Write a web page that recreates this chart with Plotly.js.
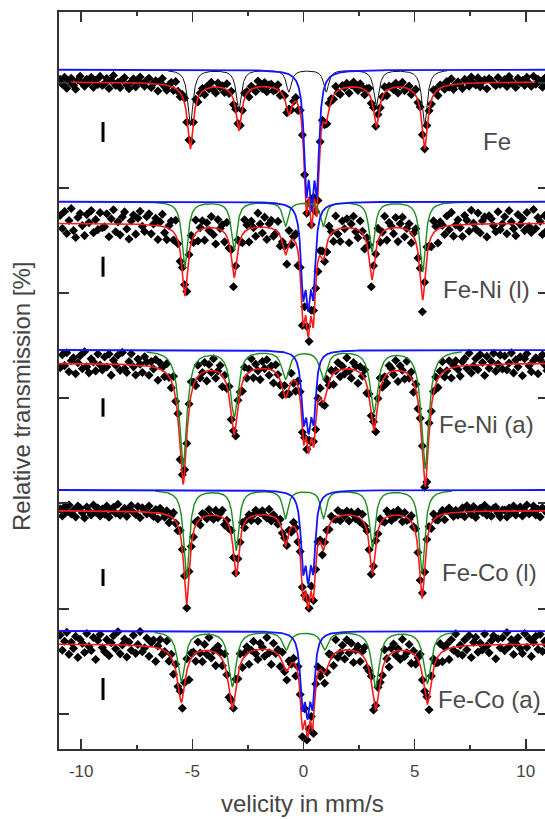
<!DOCTYPE html>
<html><head><meta charset="utf-8">
<script src="https://cdn.plot.ly/plotly-3.0.1.min.js"></script>
<style>html,body{margin:0;padding:0;overflow:hidden;background:#fff}#chart{width:560px;height:819px}</style>
</head><body><div id="chart"></div>
<script>
// ---- data (y in arbitrary offset units of relative transmission) ----
const spectra = ["Fe", "Fe-Ni (l)", "Fe-Ni (a)", "Fe-Co (l)", "Fe-Co (a)"];
const subBase = [679.3, 547.3, 399, 259, 118];      // baseline of sub-spectra (blue / green / black)
const fitBase = [667, 525.7, 385.7, 238.3, 105];    // baseline of total fit and data
const sextetPos = [
  [-5.09, -2.91, -0.66, 1.02, 3.28, 5.45],
  [-5.34, -3.12, -0.81, 0.89, 3.08, 5.36],
  [-5.42, -3.12, -0.81, 0.90, 3.17, 5.47],
  [-5.26, -3.03, -0.81, 0.90, 3.10, 5.33],
  [-5.50, -3.20, -0.78, 0.95, 3.24, 5.57]
];
const sextetDepth = [
  [56, 40, 22, 22, 36, 56],
  [66, 48, 24, 24, 50, 70],
  [116, 66, 28, 28, 62, 118],
  [88, 60, 28, 28, 58, 82],
  [50, 55, 18, 18, 56, 52]
];
const sextetWidth = [0.14, 0.15, 0.2, 0.15, 0.2];
const broadDepth = [
  [10, 7, 5, 5, 7, 10],
  [6, 5, 3, 3, 5, 6],
  [4, 3, 2, 2, 3, 4],
  [5, 4, 3, 3, 4, 5],
  [7, 8, 4, 4, 8, 7]
];
const broadWidth = [0.5, 0.5, 0.6, 0.5, 0.55];
const centralPos = [
  [0.12, 0.36, 0.60],
  [-0.02, 0.21, 0.44],
  [0.00, 0.23, 0.46],
  [-0.02, 0.21, 0.44],
  [-0.05, 0.18, 0.41]
];
const centralDepth = [101, 77, 59, 66, 62];
const centralWidth = [0.12, 0.12, 0.12, 0.12, 0.12];
const subRange = [[-6.1, 6.45], [-9.0, 9.2], [-7.06, 7.13], [-6.67, 6.69], [-6.7, 6.77]];
const fitRange = [[-10.45, 10.43], [-11, 11], [-11, 11], [-11, 11], [-11, 11]];
const subColor = ["#111111", "#1e8c1e", "#1e8c1e", "#1e8c1e", "#1e8c1e"];
const errorBarY = [[607, 627], [472.3, 492.3], [332.3, 350.7], [163, 180], [49, 71]];
const labelX = [7.97, 6.19, 6.0, 6.14, 5.96];
const labelY = [608, 459.5, 325, 177, 50];
const yTicks = [666, 561, 456, 351, 246, 140, 35];
const xTickVals = [-10, -5, 0, 5, 10];
const xTickText = ["-10", "-5", "0", "5", "10"];

// data scatter around the fit, channel by channel
const residFe = [3,-2,5,-6,1,4,-3,-7,2,6,-1,-4,3,0,5,-5,2,-2,6,-3,
-1,4,-6,2,7,-3,0,-5,3,5,-2,-6,1,4,-4,2,6,-1,-3,3,
5,-4,0,3,-7,2,6,-2,-5,1,4,-3,7,-1,-4,2,5,-6,0,3,
-2,6,-4,1,3,-5,2,-1,5,-3,-6,4,0,2,-4,6,-2,3,-5,1,
4,-1,-3,5,2,-6,3,0,-4,6,1,-2,4,-5,2,3,-3,-1,5,-4,
0,3,-5,6,-2,1,4,-6,2,-3,5,0,-4,3,6,-1,-5,2,4,-2,
-3,5,1,-4,6,-2,-5,3,0,4,-6,2,5,-1,-3,4,1,-5,3,6,
-4,2,-1,5,-3,0,6,-5,3,1,-2,4,-6,2,5,-3,0,3,-4,1,
6,-2,3,-5,0,4,-1,-4,5,2,-6,3,1,-3,4,-2,6,-5,0,2,
-1,-5,4,2,-3,6,0,-2,5,-4,1,3,-6,4,2,-1,-3,5,-2,0,
3,-4,6,1,-2,-5,4,0,2,-3,5,-1,-4,6,-2,3,1,-5,4,-3];
const residFeNiL = [8,-5,12,-10,3,15,-7,-14,6,10,-2,-12,9,1,13,-9,4,-6,11,-4,
-3,10,-13,5,14,-8,2,-11,7,12,-5,-15,3,9,-10,6,13,-2,-7,8,
11,-9,1,7,-14,4,12,-6,-12,3,9,-8,15,-3,-10,5,11,-13,0,7,
-6,13,-10,2,8,-12,5,-3,11,-7,-16,9,1,6,-9,14,-5,7,-11,3,
10,-2,-8,12,5,-13,7,0,-9,14,3,-6,10,-12,4,8,-7,-3,11,-10,
1,7,-12,13,-5,3,9,-14,6,-8,12,-1,-10,7,15,-4,-11,5,9,-6,
-8,11,2,-10,14,-5,-13,7,-1,9,-15,4,12,-3,-8,10,2,-12,6,13,
-9,5,-3,12,-7,0,14,-11,6,2,-6,10,-14,4,11,-8,1,7,-10,3,
13,-5,7,-12,-1,9,-3,-10,12,4,-14,6,2,-8,10,-4,13,-11,0,5,
-3,-12,9,4,-7,14,1,-5,11,-9,3,7,-13,8,5,-2,-8,12,-6,0,
7,-10,13,2,-5,-12,9,-1,5,-7,11,-3,-9,14,-5,6,2,-11,8,-7];
const residFeNiA = [-4,9,-2,11,-8,3,6,-10,1,8,-5,12,-3,-9,5,2,-7,10,-1,-6,
7,-3,10,-11,4,-1,9,-6,12,-4,-8,3,11,-2,-10,6,1,-7,9,4,
-9,5,-2,8,-12,6,3,-5,10,-1,-7,11,-3,4,-10,7,2,-8,5,12,
3,-6,11,-4,0,9,-10,6,-2,12,-7,1,8,-11,4,-3,10,-5,2,-9,
6,-1,-9,10,-4,3,12,-8,5,-2,-11,7,0,9,-6,4,-12,8,1,-5,
-7,11,2,-6,9,-3,-10,5,8,-1,4,-9,12,-4,6,-8,3,10,-2,-6,
10,-4,6,-11,1,8,-7,3,-5,11,-2,-9,7,4,-12,6,-1,9,-8,2,
-2,8,-10,4,11,-6,0,-9,7,3,-4,10,-11,5,1,-7,12,-3,6,-10,
5,-8,3,9,-2,-12,10,-4,1,7,-9,4,11,-6,-1,8,-10,2,6,-3,
-10,4,7,-3,12,-8,-1,6,-5,10,2,-11,8,-4,3,11,-7,0,9,-5,
8,-6,1,11,-9,4,-3,7,-12,5,10,-2,-8,3,6,-10,4,9,-1,-7];
const residFeCoL = [2,-5,4,-1,6,-3,1,-6,5,3,-2,-7,4,0,-4,6,-1,3,-5,2,
-3,5,-6,1,4,-2,7,-4,0,3,-5,2,6,-1,-3,5,-6,4,1,-2,
6,-1,-4,3,-6,5,2,-3,4,-7,1,6,-2,-5,3,0,5,-4,2,-1,
-5,3,1,-6,4,2,-3,6,-1,-4,5,-2,3,7,-6,1,-3,4,-5,2,
4,-2,6,-5,0,3,-4,1,5,-6,2,4,-1,-3,6,-5,2,0,-4,5,
-1,6,-3,2,-5,4,1,-6,3,5,-2,0,-4,6,-1,-5,3,2,-6,4,
3,-4,5,0,-2,6,-5,2,-1,4,-6,3,1,-3,5,-4,6,-2,0,-5,
-6,2,4,-3,5,-1,-4,6,2,-5,3,-2,5,1,-6,4,-3,0,6,-1,
5,-3,0,4,-6,2,3,-5,6,-2,-4,1,4,-6,3,5,-1,-4,2,-3,
-2,4,-5,6,1,-3,5,-6,0,3,-1,6,-4,2,-5,3,4,-2,-6,1,
1,-6,3,-2,5,-4,2,4,-5,0,6,-3,-1,5,-4,2,-6,3,1,-2];
const residFeCoA = [9,-6,3,12,-10,2,-4,8,-13,5,1,-8,11,-2,-6,7,-15,4,10,-3,
-7,5,-11,2,9,-4,13,-9,0,6,-12,3,-5,10,-8,1,14,-6,-2,8,
-10,4,7,-14,2,9,-5,-1,11,-7,3,-12,6,-3,8,-9,1,12,-17,5,
3,-8,10,-2,-11,6,-4,13,-7,1,-13,8,4,-6,11,-1,-9,5,-3,9,
-5,11,-8,3,7,-12,1,9,-4,-10,6,2,-7,12,-3,-14,8,-1,5,-9,
10,-3,-9,6,-1,4,-11,7,2,-8,12,-5,-2,9,-13,3,6,-7,1,-10,
-4,8,2,-11,13,-6,-2,5,-9,10,-3,7,-12,1,6,-8,4,11,-5,-1,
6,-10,4,9,-3,-7,12,-1,-12,5,8,-4,2,-9,11,-6,-2,7,-11,3,
-8,2,11,-5,-1,7,-13,4,9,-2,-6,10,-10,3,5,-11,8,-3,13,-7,
1,-9,6,-4,10,-12,3,8,-7,2,-5,11,-1,-8,4,9,-14,6,-3,7,
-6,12,-2,5,-10,1,7,-4,-9,11,-3,6,-12,2,8,-5,10,-7,3,-1];
const residuals = [residFe, residFeNiL, residFeNiA, residFeCoL, residFeCoA];

// ---- model curves ----
function lor(x, p, g) { const u = (x - p) / g; return 1 / (1 + u * u); }
function sextetDip(s, x) { let d = 0; for (let k = 0; k < 6; k++) d += sextetDepth[s][k] * lor(x, sextetPos[s][k], sextetWidth[s]); return d; }
function broadDip(s, x) { let d = 0; for (let k = 0; k < 6; k++) d += broadDepth[s][k] * lor(x, sextetPos[s][k], broadWidth[s]); return d; }
function centralDip(s, x) { let d = 0; for (let k = 0; k < centralPos[s].length; k++) d += centralDepth[s] * lor(x, centralPos[s][k], centralWidth[s]); return d; }
function fitY(s, x) { return fitBase[s] - sextetDip(s, x) - broadDip(s, x) - centralDip(s, x); }
function grid(a, b) { const out = []; const n = Math.round((b - a) / 0.01); for (let i = 0; i <= n; i++) out.push(a + (b - a) * i / n); return out; }

const pointTraces = [], lineTraces = [];
for (let s = 0; s < spectra.length; s++) {
  const vx = residuals[s].map((_, i) => -10.95 + 0.1 * i);
  const vy = vx.map((x, i) => fitY(s, x) + residuals[s][i]);
  pointTraces.push({x: vx, y: vy, type: 'scatter', mode: 'markers', marker: {symbol: 'diamond', size: 7, color: '#000'}, hoverinfo: 'skip'});
  const fx = grid(fitRange[s][0], fitRange[s][1]);
  lineTraces.push({x: fx, y: fx.map(x => fitY(s, x)), type: 'scatter', mode: 'lines', line: {color: '#ff1a1a', width: 1.6}, hoverinfo: 'skip'});
  const sx = grid(subRange[s][0], subRange[s][1]);
  lineTraces.push({x: sx, y: sx.map(x => subBase[s] - sextetDip(s, x)), type: 'scatter', mode: 'lines', line: {color: subColor[s], width: s === 0 ? 1 : 1.4}, hoverinfo: 'skip'});
  const bx = grid(-11, 11);
  lineTraces.push({x: bx, y: bx.map(x => subBase[s] - centralDip(s, x)), type: 'scatter', mode: 'lines', line: {color: '#1414ff', width: 1.8}, hoverinfo: 'skip'});
  lineTraces.push({x: [-9.02, -9.02], y: errorBarY[s], type: 'scatter', mode: 'lines', line: {color: '#000', width: 3}, hoverinfo: 'skip'});
}

const annotations = spectra.map((t, s) => ({x: labelX[s], y: labelY[s], xref: 'x', yref: 'y', text: t, showarrow: false, xanchor: 'left', yanchor: 'middle', font: {size: 24, color: '#4a4a4a', family: 'Liberation Sans, Arial, sans-serif'}}));
annotations.push({x: 0.497, y: -0.0735, xref: 'paper', yref: 'paper', text: 'velicity in mm/s', showarrow: false, xanchor: 'center', yanchor: 'middle', font: {size: 24, color: '#444', family: 'Liberation Sans, Arial, sans-serif'}});
annotations.push({x: -0.0757, y: 0.479, xref: 'paper', yref: 'paper', text: 'Relative transmission [%]', textangle: -90, showarrow: false, xanchor: 'center', yanchor: 'middle', font: {size: 24, color: '#444', family: 'Liberation Sans, Arial, sans-serif'}});

const layout = {
  width: 560, height: 819,
  margin: {l: 59, r: 12, t: 12, b: 70},
  paper_bgcolor: '#fff', plot_bgcolor: '#fff', showlegend: false,
  font: {family: 'Liberation Sans, Arial, sans-serif', color: '#444'},
  xaxis: {range: [-11, 11], tickmode: 'array', tickvals: xTickVals, ticktext: xTickText,
    ticks: 'inside', ticklen: 10, tickwidth: 1.5, tickcolor: '#333', showline: true, linewidth: 2, linecolor: '#333',
    mirror: 'ticks', showgrid: false, zeroline: false, tickfont: {size: 17, color: '#444'}, ticklabelstandoff: 6,
    minor: {tickvals: [-7.5, -2.5, 2.5, 7.5], ticks: 'inside', ticklen: 4, tickwidth: 1.5, tickcolor: '#333', showgrid: false}},
  yaxis: {range: [0, 737], tickmode: 'array', tickvals: yTicks, showticklabels: false,
    ticks: 'inside', ticklen: 10, tickwidth: 1.5, tickcolor: '#333', showline: true, linewidth: 2, linecolor: '#333',
    mirror: 'ticks', showgrid: false, zeroline: false},
  annotations: annotations
};
Plotly.newPlot('chart', pointTraces.concat(lineTraces), layout, {staticPlot: true, displayModeBar: false});
</script></body></html>
